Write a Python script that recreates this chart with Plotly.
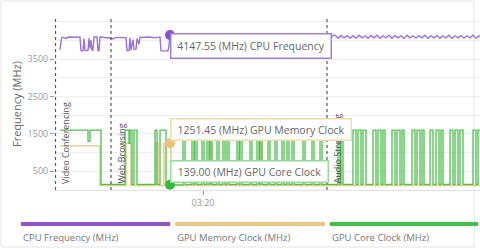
import plotly.graph_objects as go

# ---------------- data (time in seconds, value in MHz) ----------------
cpu_t = [0, 1.5, 3, 6, 8, 15, 20, 21, 23, 24, 25, 28, 29, 30, 31, 32, 33, 34, 37, 38, 39, 40,
         45, 51, 53, 56, 66, 67, 69, 70, 71, 73, 74, 76, 77, 79, 80, 90, 95, 100, 101, 108, 109, 110,
         115, 130, 150, 170, 190, 210, 230, 250, 270,
         272, 274, 276, 278, 281, 284, 287, 290, 293, 296, 299, 302, 305, 308, 311, 314, 317, 320,
         323, 326, 329, 332, 335, 338, 341, 344, 347, 350, 353, 356, 359, 362, 365, 368, 371, 374,
         377, 380, 383, 386, 389, 392, 395, 398, 401, 404, 407, 410, 413, 416, 419, 421]
cpu_v = [3750, 4060, 4085, 4050, 4090, 4080, 4085, 3720, 3720, 4050, 3730, 3730, 4060, 3780, 4000, 3740, 3740, 4090, 4090, 3730, 3730, 4090,
         4080, 4060, 4040, 4080, 4075, 3730, 3730, 4070, 3740, 4020, 3760, 3760, 4050, 3900, 4080, 4090, 4070, 4090, 3720, 3720, 3850, 4147.55,
         4100, 4090, 4110, 4095, 4105, 4100, 4095, 4110, 4100,
         4100, 4150, 4120, 4060, 4135, 4070, 4130, 4055, 4125, 4065, 4140, 4070, 4125, 4055, 4135, 4070, 4140, 4060,
         4125, 4070, 4140, 4060, 4130, 4070, 4125, 4055, 4140, 4070, 4125, 4060, 4130, 4070, 4140, 4060, 4125, 4070,
         4130, 4055, 4125, 4070, 4140, 4060, 4125, 4070, 4130, 4060, 4125, 4070, 4140, 4060, 4120, 4090]

mem_t = [0, 40, 66, 71, 96, 98, 104, 111, 150, 152, 200, 202, 421]
mem_v = [1180, 120, 1250, 120, 1250, 120, 1251.45, 120, 1250, 120, 1250, 120, 120]

core_t = [0, 28, 30, 41, 65, 69, 70, 72, 74, 77, 95, 97, 100, 106, 110,
          123, 125, 132, 134, 135, 137, 142, 144, 147, 149, 150, 152, 157, 159, 163, 165, 167, 169,
          177, 179, 180, 182, 190, 192, 197, 199, 200, 202, 208, 210, 215, 217, 222, 224, 227, 229,
          232, 234, 243, 245, 252, 254, 260, 262,
          278, 280, 281, 283,
          293, 296, 298, 301, 303, 306,
          313, 316, 318, 321, 323, 325,
          332, 335, 337, 340, 342, 344,
          352, 355, 357, 360, 362, 364,
          370, 373, 376, 379, 381, 383,
          390, 393, 395, 398, 400, 403,
          413, 416, 418, 421]
core_v = [1600, 1300, 1600, 150, 1600, 1250, 1600, 150, 1600, 150, 1600, 150, 1600, 150, 139,
          1600, 150, 1600, 150, 1600, 150, 1600, 150, 1600, 150, 1600, 150, 1600, 150, 1600, 150, 1600, 150,
          1600, 150, 1600, 150, 1600, 150, 1600, 150, 1600, 150, 1600, 150, 1600, 150, 1600, 150, 1600, 150,
          1600, 150, 1600, 150, 1600, 150, 1600, 150,
          1600, 150, 1600, 150,
          1600, 150, 1600, 150, 1600, 150,
          1600, 150, 1600, 150, 1600, 150,
          1600, 150, 1600, 150, 1600, 150,
          1600, 150, 1600, 150, 1600, 150,
          1600, 150, 1600, 150, 1600, 150,
          1600, 150, 1600, 150, 1600, 150,
          1600, 150, 1600, 1600]

events = ["Video Conferencing", "Web Browsing", "Audio Streaming"]
event_t = [-4.5, 51, 267]

hover_t = 110
hover_vals = [4147.55, 1251.45, 139.00]
hover_names = ["CPU Frequency", "GPU Memory Clock", "GPU Core Clock"]

series_names = ["CPU Frequency (MHz)", "GPU Memory Clock (MHz)", "GPU Core Clock (MHz)"]
y_ticks = [500, 1500, 2500, 3500]
y_minor = [1000, 2000, 3000, 4000, 4500]
x_tickvals = [143]
x_ticktext = ["03:20"]

# ---------------- styles ----------------
line_colors = ["#9b72d6", "#e6c880", "#4cc24f"]
dot_colors = ["#8a4fcc", "#e8c477", "#2fbd3c"]
bar_colors = ["#8e55cc", "#e8c882", "#40c04a"]
box_borders = ["#a27fd9", "#eedcae", "#97d89c"]
FONT = "Open Sans"

fig = go.Figure()
fig.add_trace(go.Scatter(x=cpu_t, y=cpu_v, mode="lines", line=dict(color=line_colors[0], width=1.4),
                         name=series_names[0]))
fig.add_trace(go.Scatter(x=mem_t, y=mem_v, mode="lines", line=dict(color=line_colors[1], width=1.4, shape="hv"),
                         name=series_names[1]))
fig.add_trace(go.Scatter(x=core_t, y=core_v, mode="lines", line=dict(color=line_colors[2], width=1.3, shape="hv"),
                         name=series_names[2]))

shapes = []
annotations = []
# event lines + labels
for name, t in zip(events, event_t):
    shapes.append(dict(type="line", xref="x", yref="paper", x0=t, x1=t, y0=0, y1=1,
                       line=dict(color="#555", width=1.2, dash="dot")))
    annotations.append(dict(x=t, y=0, xref="x", yref="paper", text=name, textangle=-90,
                            showarrow=False, xanchor="left", yanchor="bottom", xshift=1, yshift=4,
                            font=dict(family=FONT, size=9, color="#555")))

# tooltip boxes
box_specs = [  # (y value, yanchor, width, height)
    (4201, "top", 157, 21),
    (1306, "bottom", 177, 18),
    (180, "bottom", 154, 18),
]
for i, (yv, ya, w, h) in enumerate(box_specs):
    annotations.append(dict(x=hover_t, y=yv, xref="x", yref="y", xanchor="left", yanchor=ya,
                            text=f"{hover_vals[i]:.2f} (MHz) {hover_names[i]}", showarrow=False,
                            width=w, height=h, align="center", valign="middle",
                            bgcolor="white", bordercolor=box_borders[i], borderwidth=1.5, borderpad=1,
                            font=dict(family=FONT, size=10.5, color="#666")))
    fig.add_trace(go.Scatter(x=[hover_t], y=[hover_vals[i]], mode="markers",
                             marker=dict(color=dot_colors[i], size=10), showlegend=False))

# custom legend (bars + labels), paper coords: plot spans px 55..480, 18..190
def px_x(p):
    return (p - 55) / 425.0

def px_y(p):
    return (190 - p) / 172.0

bar_x = [(21, 170), (175, 325), (330, 478)]
for i, (a, b) in enumerate(bar_x):
    shapes.append(dict(type="line", xref="paper", yref="paper", x0=px_x(a), x1=px_x(b),
                       y0=px_y(224), y1=px_y(224), line=dict(color=bar_colors[i], width=4)))
    annotations.append(dict(x=px_x(a), y=px_y(237), xref="paper", yref="paper", xanchor="left",
                            yanchor="middle", text=series_names[i], showarrow=False,
                            font=dict(family=FONT, size=9.5, color="#777")))

# faint frame
shapes.append(dict(type="rect", xref="paper", yref="paper", x0=px_x(1), x1=px_x(474),
                   y0=px_y(247), y1=px_y(1), line=dict(color="#e4e4e4", width=1), layer="below"))

fig.update_layout(
    width=480, height=249,
    margin=dict(l=55, r=0, t=18, b=59),
    paper_bgcolor="white", plot_bgcolor="white",
    showlegend=False,
    font=dict(family=FONT, color="#777"),
    shapes=shapes, annotations=annotations,
    xaxis=dict(range=[-5, 420], showgrid=False, zeroline=False, showline=True, linecolor="#e2e2e2",
               tickvals=x_tickvals, ticktext=x_ticktext, ticks="outside", ticklen=4, tickcolor="#999",
               tickfont=dict(family=FONT, size=9, color="#999")),
    yaxis=dict(range=[0, 4600], tickvals=y_ticks, showgrid=True, gridcolor="#eeeeee", zeroline=False,
               ticks="outside", ticklen=4, tickcolor="#999",
               minor=dict(tickvals=y_minor, showgrid=True, gridcolor="#eeeeee", ticks=""),
               tickfont=dict(family=FONT, size=9, color="#999"),
               title=dict(text="Frequency (MHz)", font=dict(family=FONT, size=11, color="#666"), standoff=3)),
)

fig.write_html("out.html")
